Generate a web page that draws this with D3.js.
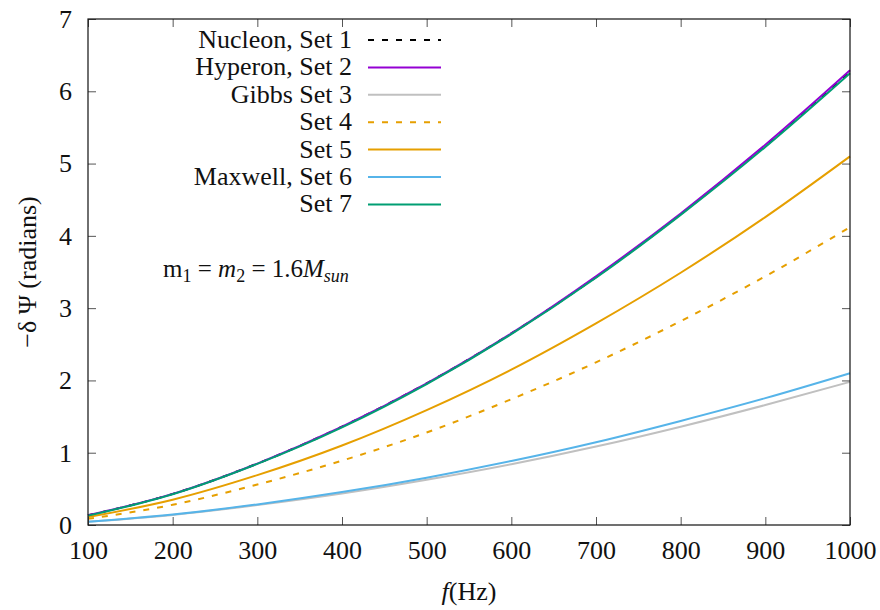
<!DOCTYPE html>
<html>
<head>
<meta charset="utf-8">
<script src="https://cdn.jsdelivr.net/npm/d3@7"></script>
</head>
<body style="margin:0">
<svg id="chart" width="880" height="610"></svg>
<script>
// frequencies (Hz)
const freqs = [100, 200, 300, 400, 500, 600, 700, 800, 900, 1000];

// -delta Psi (radians) per set
const set1 = [0.135, 0.43, 0.85, 1.36, 1.96, 2.65, 3.43, 4.30, 5.25, 6.27];
const set2 = [0.135, 0.43, 0.85, 1.36, 1.96, 2.65, 3.44, 4.31, 5.26, 6.29];
const set3 = [0.045, 0.14, 0.275, 0.435, 0.625, 0.84, 1.085, 1.36, 1.66, 1.98];
const set4 = [0.085, 0.28, 0.56, 0.89, 1.28, 1.74, 2.25, 2.82, 3.44, 4.12];
const set5 = [0.11, 0.35, 0.69, 1.10, 1.59, 2.15, 2.79, 3.49, 4.26, 5.10];
const set6 = [0.045, 0.145, 0.285, 0.455, 0.655, 0.885, 1.145, 1.44, 1.755, 2.10];
const set7 = [0.13, 0.425, 0.845, 1.35, 1.95, 2.64, 3.42, 4.29, 5.23, 6.25];

const xTicks = [100, 200, 300, 400, 500, 600, 700, 800, 900, 1000];
const yTicks = [0, 1, 2, 3, 4, 5, 6, 7];

const series = [
  { name: 'Nucleon, Set 1', values: set1, color: '#000000', dash: '6,8' },
  { name: 'Hyperon, Set 2', values: set2, color: '#9400d3', dash: null },
  { name: 'Gibbs Set 3', values: set3, color: '#c0c0c0', dash: null },
  { name: 'Set 4', values: set4, color: '#e69f00', dash: '6,8' },
  { name: 'Set 5', values: set5, color: '#e69f00', dash: null },
  { name: 'Maxwell, Set 6', values: set6, color: '#56b4e9', dash: null },
  { name: 'Set 7', values: set7, color: '#009e73', dash: null },
];

const FONT = 'Liberation Serif';
const FS = 26;
const width = 880, height = 610;
const margin = { top: 19, right: 30, bottom: 85, left: 88 };
const innerW = width - margin.left - margin.right;
const innerH = height - margin.top - margin.bottom;

const svg = d3.select('#chart');

const g = svg.append('g')
  .attr('transform', `translate(${margin.left},${margin.top})`);

const x = d3.scaleLinear().domain([100, 1000]).range([0, innerW]);
const y = d3.scaleLinear().domain([0, 7]).range([innerH, 0]);

// curves
const line = d3.line()
  .x((d, i) => x(freqs[i]))
  .y(d => y(d))
  .curve(d3.curveMonotoneX);

g.append('g').selectAll('path')
  .data(series)
  .enter()
  .append('path')
  .attr('d', d => line(d.values))
  .attr('fill', 'none')
  .attr('stroke', d => d.color)
  .attr('stroke-width', 2)
  .attr('stroke-dasharray', d => d.dash);

// inward ticks on all four sides (gnuplot style)
const tickLen = 8;
const fmt = d3.format('d');
const bottomAxis = d3.axisBottom(x).tickValues(xTicks).tickFormat(fmt).tickSizeInner(-tickLen).tickSizeOuter(0).tickPadding(16);
const topAxis = d3.axisTop(x).tickValues(xTicks).tickSizeInner(-tickLen).tickSizeOuter(0).tickFormat('');
const leftAxis = d3.axisLeft(y).tickValues(yTicks).tickFormat(fmt).tickSizeInner(-tickLen).tickSizeOuter(0).tickPadding(16);
const rightAxis = d3.axisRight(y).tickValues(yTicks).tickSizeInner(-tickLen).tickSizeOuter(0).tickFormat('');

const axes = [
  g.append('g').attr('transform', `translate(0,${innerH})`).call(bottomAxis),
  g.append('g').call(topAxis),
  g.append('g').call(leftAxis),
  g.append('g').attr('transform', `translate(${innerW},0)`).call(rightAxis),
];
axes.forEach(a => {
  a.attr('font-family', null).attr('font-size', null);
  a.select('.domain').remove();
  a.selectAll('.tick line').attr('stroke', '#555').attr('stroke-width', 1);
  a.selectAll('.tick text')
    .attr('font-family', FONT)
    .attr('font-size', FS)
    .attr('fill', '#111');
});

// frame
g.append('rect')
  .attr('width', innerW).attr('height', innerH)
  .attr('fill', 'none').attr('stroke', '#111').attr('stroke-width', 1.2);

// legend
const legend = svg.append('g').attr('transform', 'translate(352,40)');
const row = legend.selectAll('g')
  .data(series)
  .enter()
  .append('g')
  .attr('transform', (d, i) => `translate(0,${i * 27.4})`);
row.append('text')
  .attr('text-anchor', 'end')
  .attr('y', 8)
  .attr('font-family', FONT)
  .attr('font-size', FS)
  .attr('fill', '#111')
  .text(d => d.name);
row.append('line')
  .attr('x1', 16).attr('x2', 89)
  .attr('stroke', d => d.color)
  .attr('stroke-width', 2)
  .attr('stroke-dasharray', d => d.dash);

// annotation: m1 = m2 = 1.6 M_sun
const ann = svg.append('text')
  .attr('x', 163).attr('y', 277)
  .attr('font-family', FONT).attr('font-size', 25).attr('fill', '#111');
ann.append('tspan').text('m');
ann.append('tspan').attr('font-size', 18).attr('dy', 5).text('1');
ann.append('tspan').attr('dy', -5).text(' = ');
ann.append('tspan').attr('font-style', 'italic').text('m');
ann.append('tspan').attr('font-size', 18).attr('dy', 5).text('2');
ann.append('tspan').attr('dy', -5).text(' = 1.6');
ann.append('tspan').attr('font-style', 'italic').text('M');
ann.append('tspan').attr('font-style', 'italic').attr('font-size', 18).attr('dy', 5).text('sun');

// axis titles
const xt = svg.append('text')
  .attr('x', margin.left + innerW / 2).attr('y', 600)
  .attr('text-anchor', 'middle')
  .attr('font-family', FONT).attr('font-size', FS).attr('fill', '#111');
xt.append('tspan').attr('font-style', 'italic').text('f');
xt.append('tspan').text('(Hz)');

svg.append('text')
  .attr('transform', `translate(36,${margin.top + innerH / 2}) rotate(-90)`)
  .attr('text-anchor', 'middle')
  .attr('font-family', FONT).attr('font-size', FS).attr('fill', '#111')
  .text('−δ Ψ (radians)');
</script>
</body>
</html>
